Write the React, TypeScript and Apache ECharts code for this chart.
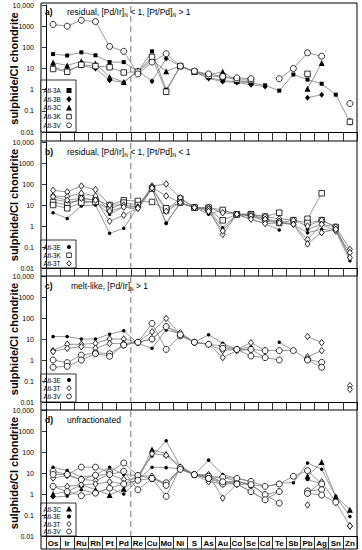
import React, { useEffect, useRef } from 'react';
import * as echarts from 'echarts';

const categories = ['Os','Ir','Ru','Rh','Pt','Pd','Re','Cu','Mo','Ni','S','As','Au','Co','Se','Cd','Te','Sb','Pb','Ag','Sn','Zn'];
const yTicks = [0.01, 0.1, 1, 10, 100, 1000, 10000];

// Panel a
const a3A = [48, 41, 58, 42, 20, 20, 7, 65, 1.0, 13, 7, 3.7, 2.7, 2.4, 2.1, 1.6, 0.9, 5.2, 3.0, 1.9, 0.58, 0.03];
const a3B = [11, 8, 14, 10, 2.8, 2.2, 8, 2.5, 30, 13, 7, 3.4, 2.4, 2.2, 1.7, 1.4, null, null, 0.42, 0.58, null, 0.028];
const a3C = [19, 14, 22, 17, 4, 2.3, 7, 25, 7.5, 13, 7, 5, 7, 2.6, 2.3, null, null, null, 1.1, 18, null, 0.035];
const a3K = [9.5, 7, 15, 13, 11.5, 6.5, 7, 35, 0.8, 13, 7, 4.5, 4, 3, 2.8, null, null, null, 5.6, null, null, 0.03];
const a3V = [1200, 1000, 1900, 1650, 110, 65, 5.5, 20, 50, 13, 7.5, 5.5, 4.2, 3.6, 3.3, null, 3.3, 10, 55, 38, null, 0.22];

// Panel b
const bE1 = [4.3, 2.3, 9, 10, 0.45, 0.78, 8, 62, 1.3, 13, 7.5, 3.6, 5.8, 3.6, 2.1, 1.3, 0.65, null, 0.7, 1.2, 0.9, 0.03];
const bE2 = [19, 14, 15.5, 14, 3.6, 8, 6.2, 58, 1.4, 12, 7.5, 6.2, 0.83, 3.6, 3.0, 1.7, 1.4, 1.2, 0.48, 0.7, 0.58, 0.022];
const bK1 = [14, 10, 21, 17, 10, 16.7, 15.5, 14, 5.5, 20, 7.5, 7.5, 5.8, 3.6, 3.6, 2.8, 4.3, null, 2.2, 36, null, null];
const bK2 = [10, 7, 13, 14, 6.2, 13, 10, 60, 7, 13, 7.5, 6.2, 1.86, 3.6, 3.6, 2.1, 1.4, 1.9, 1.4, 1.9, 0.9, null];
const bT1 = [50, 42, 80, 54, 10, 10, 8, 80, 100, 22, 7.5, 7.5, 4.3, 3.6, 3.6, 2.8, 2.2, 1.9, 1.0, 1.9, 0.9, 0.077];
const bT2 = [27, 25, 36, 27, 5.2, 8, 8, 70, 27, 13, 7.5, 6.2, 0.4, 3.6, 3.0, 2.1, 1.7, 1.2, 0.23, 1.2, 0.58, 0.054];
const bT3 = [25, 17, 21, 17, 1.7, 3.3, 7, 65, 5, 13, 7.5, 5, 0.58, 3.6, 2.1, 1.3, 1.4, 1.2, 0.14, 0.48, 0.7, 0.031];

// Panel c
const cE = [13, 13, 10, 10, 17, 25, 6.2, 3.6, 27, 18, 7, 16, 6.2, 3.2, 4.3, null, 7, 2.8, null, null, null, null];
const cT1 = [2.8, 5.6, 5.6, 6.2, 10, 10, 7, 22, 95, 16, 7, 5.6, 2.8, 3.2, 6.7, 2.8, null, null, 13, 6.7, null, 0.06];
const cT2 = [2.5, 3.6, 4.3, 3.6, 6.2, 6.2, 7, 10, 39, 20, 7, 5.6, 1.3, 2.8, 3.2, 1.3, null, null, 1.4, 2.8, null, 0.04];
const cV1 = [1.0, 0.75, 1.7, 2.2, 2.0, 5.2, 7, 55, 3.2, 14, 7, 5.6, 4.6, 3.2, 3.2, 2.8, 2.8, 2.8, 1.07, 0.77, null, null];
const cV2 = [0.45, 0.5, 1.0, 2.0, 1.5, 5.2, 7, 10, 39, 16, 7, null, 3.6, 3.2, 1.55, 1.3, 1.0, null, 1.0, 0.45, null, null];

// Panel d
const dC = [1.0, 1.3, 2.8, 1.6, 0.9, 1.8, 5.5, 130, 83, 21, 8.4, 7, 3.8, 4.0, 2.8, null, null, null, 7, 33, 0.77, 0.18];
const dE1 = [19, 13, 6.3, 7.9, 19, 8.5, 7.6, 64, 340, 21, 8.4, 41, 8.4, 5.5, 4.0, null, 3.4, 3.4, 30, 15, 0.77, 0.085];
const dE2 = [0.7, 0.8, 1.6, 1.1, 1.9, 1.0, 4.5, 19, 18, 16, 8.4, 5.5, 6.3, 4.0, 2.8, 2.3, 3.0, null, 4.9, 3.0, null, null];
const dT1 = [5.8, 7.6, 4.9, 4.4, 8.5, 4.9, 5.5, 83, 70, 18, 8.4, 8.4, 0.64, 3.0, 1.3, 0.53, null, null, 0.3, null, null, 0.03];
const dT2 = [2.1, 2.3, 2.8, 3.0, 3.8, 3.0, 7.6, 7, 2.6, 15, 8.4, 3.8, 3.0, 4.0, 2.8, 0.93, 1.3, null, 1.07, 3.8, 0.41, 0.03];
const dV1 = [12, 8.5, 19, 19, 11, 30, 7.6, 5.5, 3.4, 16, 8.4, 7, 6.3, 5.5, 4.0, 2.3, 3.0, 7, 13, 3.0, null, null];
const dV2 = [8.5, 8.5, 4.9, 7.9, 8.5, 12, 1.6, 5.5, 0.77, 18, 8.4, 5.5, 3.0, 3.0, 2.8, 0.93, 0.37, null, 1.4, 1.6, null, null];
const dV3 = [2.3, 1.3, 0.83, 1.1, 1.9, 3.0, 4.5, 5.5, 2.6, 15, 8.4, 5.5, 3.8, 3.0, 1.3, 0.53, 1.3, null, 1.07, 0.9, 0.41, null];

const panelTitles = [
  { tag: 'a)', parts: ['residual, [Pd/Ir]', 'N', ' < 1, [Pt/Pd]', 'N', ' > 1'] },
  { tag: 'b)', parts: ['residual, [Pd/Ir]', 'N', ' < 1, [Pt/Pd]', 'N', ' < 1'] },
  { tag: 'c)', parts: ['melt-like, [Pd/Ir]', 'N', ' > 1'] },
  { tag: 'd)', parts: ['unfractionated'] },
];

const legendNames = [
  ['Atl-3A', 'Atl-3B', 'Atl-3C', 'Atl-3K', 'Atl-3V'],
  ['Atl-3E', 'Atl-3K', 'Atl-3T'],
  ['Atl-3E', 'Atl-3T', 'Atl-3V'],
  ['Atl-3C', 'Atl-3E', 'Atl-3T', 'Atl-3V'],
];

const sampleMarker: Record<string, string> = {
  'Atl-3A': 'fsq', 'Atl-3B': 'fdia', 'Atl-3C': 'ftri', 'Atl-3K': 'osq',
  'Atl-3V': 'ocirc', 'Atl-3E': 'fcirc', 'Atl-3T': 'odia',
};

const panelSeries: { name: string; data: (number | null)[] }[][] = [
  [{ name: 'Atl-3A', data: a3A }, { name: 'Atl-3B', data: a3B }, { name: 'Atl-3C', data: a3C }, { name: 'Atl-3K', data: a3K }, { name: 'Atl-3V', data: a3V }],
  [{ name: 'Atl-3E', data: bE1 }, { name: 'Atl-3E', data: bE2 }, { name: 'Atl-3K', data: bK1 }, { name: 'Atl-3K', data: bK2 }, { name: 'Atl-3T', data: bT1 }, { name: 'Atl-3T', data: bT2 }, { name: 'Atl-3T', data: bT3 }],
  [{ name: 'Atl-3E', data: cE }, { name: 'Atl-3T', data: cT1 }, { name: 'Atl-3T', data: cT2 }, { name: 'Atl-3V', data: cV1 }, { name: 'Atl-3V', data: cV2 }],
  [{ name: 'Atl-3C', data: dC }, { name: 'Atl-3E', data: dE1 }, { name: 'Atl-3E', data: dE2 }, { name: 'Atl-3T', data: dT1 }, { name: 'Atl-3T', data: dT2 }, { name: 'Atl-3V', data: dV1 }, { name: 'Atl-3V', data: dV2 }, { name: 'Atl-3V', data: dV3 }],
];

const FONT = 'Liberation Sans, Arial, sans-serif';
const GL = 41;
const GR = 357;
const panels = [
  { top: 5, h: 127, strip: 9, legTop: 80, legY0: 90.5, legStep: 8.7 },
  { top: 142, h: 126, strip: 8, legTop: 240, legY0: 247, legStep: 8.2 },
  { top: 276, h: 126, strip: 8, legTop: 374, legY0: 380, legStep: 8.2 },
  { top: 410, h: 126, strip: 13, legTop: 503, legY0: 509, legStep: 7.5 },
];

function markerStyle(kind: string) {
  switch (kind) {
    case 'fsq': return { symbol: 'rect', size: 4, fill: '#000', border: 0 };
    case 'fdia': return { symbol: 'diamond', size: [5, 6], fill: '#000', border: 0 };
    case 'ftri': return { symbol: 'triangle', size: 6, fill: '#000', border: 0 };
    case 'osq': return { symbol: 'rect', size: 5.5, fill: '#fff', border: 0.8 };
    case 'ocirc': return { symbol: 'circle', size: 6, fill: '#fff', border: 0.8 };
    case 'fcirc': return { symbol: 'circle', size: 3.5, fill: '#000', border: 0 };
    default: return { symbol: 'diamond', size: [5, 6.5], fill: '#fff', border: 0.8 };
  }
}

function legendMarker(kind: string, cx: number, cy: number): any {
  const black = { fill: '#000' };
  const open = { fill: '#fff', stroke: '#000', lineWidth: 0.8 };
  switch (kind) {
    case 'fsq': return { type: 'rect', shape: { x: cx - 2.5, y: cy - 2.5, width: 5, height: 5 }, style: black };
    case 'fdia': return { type: 'polygon', shape: { points: [[cx, cy - 3.2], [cx + 2.6, cy], [cx, cy + 3.2], [cx - 2.6, cy]] }, style: black };
    case 'ftri': return { type: 'polygon', shape: { points: [[cx, cy - 3.2], [cx + 3, cy + 2.6], [cx - 3, cy + 2.6]] }, style: black };
    case 'osq': return { type: 'rect', shape: { x: cx - 2.3, y: cy - 2.3, width: 4.6, height: 4.6 }, style: open };
    case 'ocirc': return { type: 'circle', shape: { cx, cy, r: 2.4 }, style: open };
    case 'fcirc': return { type: 'circle', shape: { cx, cy, r: 2 }, style: black };
    default: return { type: 'polygon', shape: { points: [[cx, cy - 2.6], [cx + 2.2, cy], [cx, cy + 2.6], [cx - 2.2, cy]] }, style: open };
  }
}

function yLabel(v: number) {
  if (v >= 9999) return '10,000';
  if (v >= 1) return String(Math.round(v));
  return String(+v.toPrecision(1));
}

export default function App() {
  const ref = useRef<HTMLDivElement>(null);
  useEffect(() => {
    if (!ref.current) return;
    const chart = echarts.init(ref.current, undefined, { renderer: 'svg' });

    const grid = panels.map((p) => ({ left: GL, top: p.top, width: GR - GL, height: p.h, containLabel: false }));
    const xAxis = panels.map((p, i) => ({
      gridIndex: i,
      type: 'category',
      data: categories,
      boundaryGap: true,
      axisLine: { show: true, lineStyle: { color: '#000', width: 1 } },
      axisTick: { show: true, interval: 0, length: p.strip, lineStyle: { color: '#000', width: 0.8 } },
      axisLabel: { show: i === 3, interval: 0, fontSize: 8, fontWeight: 'bold', color: '#000', margin: 3, fontFamily: FONT },
      splitLine: { show: false },
    }));
    const yAxis = panels.map((p, i) => ({
      gridIndex: i,
      type: 'log',
      logBase: 10,
      min: yTicks[0],
      max: yTicks[yTicks.length - 1],
      interval: 1,
      splitNumber: 6,
      axisLine: { show: true, lineStyle: { color: '#000', width: 1 } },
      axisTick: { show: true, length: 4, lineStyle: { color: '#000', width: 0.8 } },
      axisLabel: { show: false },
      splitLine: { show: false },
      name: 'sulphide/CI chondrite',
      nameLocation: 'middle',
      nameRotate: 90,
      nameGap: 27,
      nameTextStyle: { fontSize: 11, fontWeight: 'bold', color: '#000', fontFamily: FONT },
    }));

    const series: any[] = [];
    panelSeries.forEach((list, pi) => {
      list.forEach((s) => {
        const m = markerStyle(sampleMarker[s.name]);
        series.push({
          type: 'line',
          name: s.name,
          xAxisIndex: pi,
          yAxisIndex: pi,
          data: s.data,
          connectNulls: false,
          symbol: m.symbol,
          symbolSize: m.size,
          showSymbol: true,
          showAllSymbol: true,
          silent: true,
          lineStyle: { color: '#7d7d7d', width: 0.8 },
          itemStyle: { color: m.fill, borderColor: '#000', borderWidth: m.border },
          emphasis: { disabled: true },
        });
      });
    });

    chart.setOption({ animation: false, backgroundColor: '#fff', grid, xAxis, yAxis, series });

    const graphic: any[] = [];
    panels.forEach((p, i) => {
      // dashed separator between Pd and Re
      const xPd = chart.convertToPixel({ xAxisIndex: i }, 'Pd') as number;
      const xRe = chart.convertToPixel({ xAxisIndex: i }, 'Re') as number;
      const x = (xPd + xRe) / 2;
      graphic.push({ type: 'line', z: 1, shape: { x1: x, y1: p.top + 1, x2: x, y2: p.top + p.h }, style: { stroke: '#555', lineWidth: 0.8, lineDash: [6, 4] } });
      // y tick labels placed through the axis scale
      yTicks.forEach((v) => {
        const y = chart.convertToPixel({ yAxisIndex: i }, v) as number;
        graphic.push({ type: 'text', x: 34, y, style: { text: yLabel(v), fontSize: 7, fontFamily: FONT, fill: '#000', align: 'right', verticalAlign: 'middle' } });
      });
    });
    // frame
    graphic.push({ type: 'line', shape: { x1: GL, y1: 3, x2: GR, y2: 3 }, style: { stroke: '#000', lineWidth: 1 } });
    graphic.push({ type: 'line', shape: { x1: GR, y1: 3, x2: GR, y2: 549 }, style: { stroke: '#000', lineWidth: 1 } });
    graphic.push({ type: 'line', shape: { x1: GL, y1: 3, x2: GL, y2: 549 }, style: { stroke: '#000', lineWidth: 1 } });
    panels.forEach((p) => {
      const yb = p.top + p.h + p.strip;
      graphic.push({ type: 'line', shape: { x1: GL, y1: yb, x2: GR, y2: yb }, style: { stroke: '#000', lineWidth: 1 } });
    });
    // titles
    panels.forEach((p, i) => {
      const t = panelTitles[i];
      const ty = i === 0 ? 12 : p.top + 10;
      graphic.push({ type: 'text', x: 45, y: ty, style: { text: t.tag, font: `bold 8.5px ${FONT}`, fill: '#000', verticalAlign: 'middle' } });
      const rich: any = { t: { fontSize: 8.5, fontFamily: FONT, fill: '#000' }, s: { fontSize: 5, fontFamily: FONT, fill: '#000', padding: [5, 0, 0, 0] } };
      const txt = t.parts.map((part, k) => (k % 2 === 1 ? `{s|${part}}` : `{t|${part}}`)).join('');
      graphic.push({ type: 'text', x: i === 2 ? 71 : 67, y: ty, style: { text: txt, rich, verticalAlign: 'middle', fill: '#000' } });
    });
    // legends
    panels.forEach((p, i) => {
      const names = legendNames[i];
      const bottom = p.top + p.h;
      const kids: any[] = [];
      kids.push({ type: 'rect', shape: { x: GL, y: p.legTop, width: 35, height: bottom - p.legTop }, style: { fill: '#fff', stroke: '#000', lineWidth: 0.8 } });
      names.forEach((n, k) => {
        const cy = p.legY0 + k * p.legStep;
        kids.push({ type: 'text', x: 43.5, y: cy, style: { text: n, fontSize: 6.3, fontFamily: FONT, fill: '#000', verticalAlign: 'middle', align: 'left' } });
        kids.push(legendMarker(sampleMarker[n], 69, cy));
      });
      graphic.push({ type: 'group', z: 100, children: kids });
    });

    chart.setOption({ graphic });
    return () => chart.dispose();
  }, []);
  return <div ref={ref} style={{ position: 'fixed', left: 0, top: 0, width: 362, height: 550 }} />;
}
